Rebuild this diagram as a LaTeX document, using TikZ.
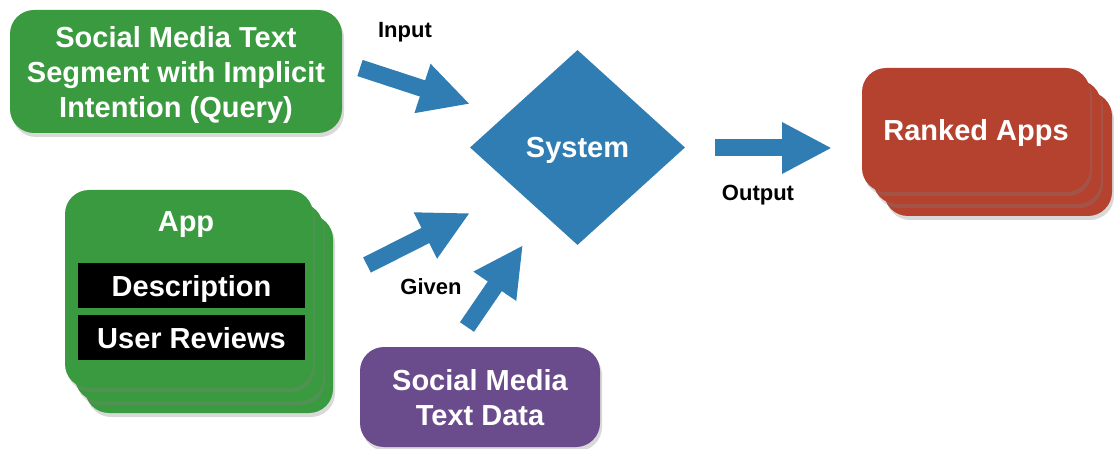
\documentclass[tikz,border=0pt]{standalone}
\usepackage{fontspec}
\setmainfont{Liberation Sans}
\usetikzlibrary{arrows.meta, shapes.geometric, shadows}

\definecolor{cardgreen}{HTML}{3A9A3F}
\definecolor{sysblue}{HTML}{2F7DB2}
\definecolor{rankred}{HTML}{B4422F}
\definecolor{datapurple}{HTML}{6A4B8B}

\tikzset{
    bigtext/.style={text=white, text depth=-2pt, font=\bfseries\fontsize{29}{35}\selectfont},
    card/.style={bigtext, rounded corners=24pt, align=center, inner sep=0pt,
        drop shadow={opacity=0.3, shadow xshift=2pt, shadow yshift=-4pt}},
    field/.style={bigtext, fill=black, inner sep=0pt,
        minimum width=227pt, minimum height=45pt},
    bigarrow/.style={sysblue, line width=17pt, -{Triangle[width=48pt, length=50pt]}},
    tag/.style={font=\bfseries\fontsize{22}{26}\selectfont}
}

\begin{document}
\begin{tikzpicture}[x=1pt, y=-1pt]

    \useasboundingbox (0,0) rectangle (1114,449);

    % Consulta
    \node[card, fill=cardgreen, minimum width=332pt, minimum height=123pt] (query) at (176,71.5)
        {Social Media Text\\ Segment with Implicit\\ Intention (Query)};

    % Sistema
    \node[diamond, fill=sysblue, bigtext, minimum width=215pt, minimum height=195pt]
        (system) at (577.5,147.5) {System};

    % Pila de apps
    \node[card, fill=cardgreen, minimum width=248pt, minimum height=198pt] (app3) at (209,314) {};
    \node[card, fill=cardgreen, minimum width=248pt, minimum height=198pt] (app2) at (199,302) {};
    \node[card, fill=cardgreen, minimum width=248pt, minimum height=198pt] (app) at (189,289) {};
    \node[bigtext] (apptitle) at (186,222) {App};
    \node[field] (desc) at (191.5,285.5) {Description};
    \node[field] (reviews) at (191.5,337.5) {User Reviews};

    % Datos de redes sociales
    \node[card, fill=datapurple, minimum width=240pt, minimum height=100pt] (data) at (480,397)
        {Social Media\\ Text Data};

    % Apps ordenadas
    \node[card, fill=rankred, minimum width=228pt, minimum height=124pt] (rank3) at (998,154) {};
    \node[card, fill=rankred, minimum width=228pt, minimum height=124pt] (rank2) at (987,142) {};
    \node[card, fill=rankred, minimum width=228pt, minimum height=124pt] (rank) at (976,130) {Ranked Apps};

    % Flechas
    \coordinate (inA) at (360,68);
    \coordinate (inB) at (470,104);
    \coordinate (giA) at (367,265);
    \coordinate (giB) at (470,213);
    \coordinate (gjA) at (467,327);
    \coordinate (gjB) at (523,245);
    \coordinate (outA) at (715,148);
    \coordinate (outB) at (832,148);

    \draw[bigarrow] (inA) -- (inB);
    \draw[bigarrow] (giA) -- (giB);
    \draw[bigarrow] (gjA) -- (gjB);
    \draw[bigarrow] (outA) -- (outB);

    % Etiquetas
    \node[tag] (input) at (405,32) {Input};
    \node[tag] (given) at (431,287) {Given};
    \node[tag] (output) at (758,195) {Output};

\end{tikzpicture}
\end{document}
